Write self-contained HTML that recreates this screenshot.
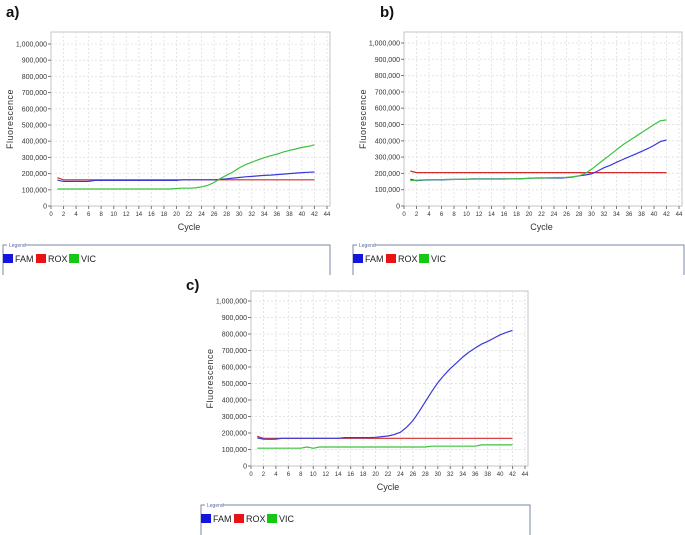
<!DOCTYPE html>
<html><head><meta charset="utf-8"><style>
body{margin:0;background:#fff;width:685px;height:535px;overflow:hidden;font-family:"Liberation Sans",sans-serif}
svg{display:block}
</style></head><body>
<svg id="chart" width="685" height="535" font-family="Liberation Sans, sans-serif"></svg>
<script>
const cycles=[1,2,3,4,5,6,7,8,9,10,11,12,13,14,15,16,17,18,19,20,21,22,23,24,25,26,27,28,29,30,31,32,33,34,35,36,37,38,39,40,41,42];
const yTicks=[0,100000,200000,300000,400000,500000,600000,700000,800000,900000,1000000];
const yTickLabels=["0","100,000","200,000","300,000","400,000","500,000","600,000","700,000","800,000","900,000","1,000,000"];
const xTicks=[0,2,4,6,8,10,12,14,16,18,20,22,24,26,28,30,32,34,36,38,40,42,44];
const seriesNames=["FAM","ROX","VIC"];
// values in thousands
const famA=[160,152,152,152,152,152,158,158,158,158,158,158,158,158,158,158,158,158,158,158,162,162,162,162,162,162,165,168,172,176,180,183,186,189,191,194,197,200,203,206,208,210];
const roxA=[175,162,162,162,162,162,162,162,162,162,162,162,162,162,162,162,162,162,162,162,162,162,162,162,162,162,162,162,162,162,162,162,162,162,162,162,162,162,162,162,162,162];
const vicA=[105,105,105,105,105,105,105,105,105,105,105,105,105,105,105,105,105,105,105,108,110,110,112,118,128,145,170,190,210,235,255,270,285,298,310,320,333,343,352,362,368,378];
const famB=[165,155,158,160,160,160,162,163,164,165,166,166,166,166,166,166,166,166,168,170,172,172,172,172,172,174,178,185,190,197,215,235,250,268,285,302,318,335,352,372,395,405];
const roxB=[215,205,205,205,205,205,205,205,205,205,205,205,205,205,205,205,205,205,205,205,205,205,205,205,205,205,205,205,205,205,205,205,205,205,205,205,205,205,205,205,205,205];
const vicB=[155,158,160,162,162,162,163,163,164,165,165,165,165,165,165,165,166,166,168,170,172,172,173,174,175,176,180,185,200,225,255,285,315,345,375,400,425,450,475,500,523,528];
const famC=[170,163,162,163,168,168,168,168,168,168,168,168,168,168,172,172,172,172,172,174,178,182,190,205,235,275,330,390,450,505,550,590,625,660,690,715,738,755,775,795,810,822];
const roxC=[180,168,168,168,168,168,168,168,168,168,168,168,168,168,168,168,168,168,168,168,168,168,168,168,168,168,168,168,168,168,168,168,168,168,168,168,168,168,168,168,168,168];
const vicC=[108,108,108,108,108,108,108,108,115,107,115,115,115,115,115,115,115,115,115,115,115,115,115,115,115,115,115,115,120,120,120,120,120,120,120,120,128,128,128,128,128,128];

const NS="http://www.w3.org/2000/svg";
const svg=document.getElementById('chart');
function mk(tag,attrs,parent,text){const e=document.createElementNS(NS,tag);for(const k in attrs)e.setAttribute(k,attrs[k]);if(text!==undefined)e.textContent=text;parent.appendChild(e);return e;}
const colors={FAM:"#3a3ad8",ROX:"#d42a2a",VIC:"#3cc23c"};
const panels=[
 {id:"a",label:"a)",lx:6,ly:17,x0:51,x1:327,top:32,y0:206,y1k:44,data:[famA,roxA,vicA],leg:{x:3,y:245,w:327,h:30}},
 {id:"b",label:"b)",lx:380,ly:17,x0:404,x1:679,top:32,y0:206,y1k:43,data:[famB,roxB,vicB],leg:{x:353,y:245,w:331,h:30}},
 {id:"c",label:"c)",lx:186,ly:290,x0:251,x1:525,top:291,y0:466,y1k:301,data:[famC,roxC,vicC],leg:{x:201,y:505,w:329,h:35}}
];
panels.forEach(p=>{
 const g=mk('g',{},svg);
 
 
 const X=c=>p.x0+(c/44)*(p.x1-p.x0);
 const Y=v=>p.y0-(v/1000000)*(p.y0-p.y1k);
 const lab=mk('text',{x:p.lx,y:p.ly,'font-size':15,'font-weight':'bold',fill:'#111'},g,p.label);
 
 
 const frame=mk('rect',{x:p.x0,y:p.top,width:p.x1-p.x0+3,height:p.y0-p.top,fill:'#fff',stroke:'#c4c4c4','stroke-width':1},g);
 
 
 yTicks.forEach((t,i)=>{
  const y=Y(t);
  if(t>0)mk('line',{x1:p.x0,x2:p.x1+3,y1:y,y2:y,stroke:'#e4e4e4','stroke-dasharray':'2,2'},g);
  mk('line',{x1:p.x0-3,x2:p.x0,y1:y,y2:y,stroke:'#777'},g);
  const tl=mk('text',{x:p.x0-4,y:y+2.5,'font-size':7,'text-anchor':'end',fill:'#333'},g,yTickLabels[i]);
  
  
 });
 xTicks.forEach(t=>{
  const x=X(t);
  if(t>0)mk('line',{x1:x,x2:x,y1:p.top,y2:p.y0,stroke:'#e4e4e4','stroke-dasharray':'2,2'},g);
  mk('line',{x1:x,x2:x,y1:p.y0,y2:p.y0+3,stroke:'#777'},g);
  const tl=mk('text',{x:x,y:p.y0+10,'font-size':6,'text-anchor':'middle',fill:'#333'},g,String(t));
  
  
 });
 const yt=mk('text',{x:0,y:0,'font-size':9,'text-anchor':'middle',fill:'#333','letter-spacing':'0.5',transform:`translate(${p.x0-38},${(p.top+p.y0)/2}) rotate(-90)`},g,'Fluorescence');
 
 
 const xt=mk('text',{x:(p.x0+p.x1)/2,y:p.y0+24,'font-size':9,'text-anchor':'middle',fill:'#333'},g,'Cycle');
 
 
 [1,0,2].forEach(si=>{
  const d=p.data[si].map((v,i)=>(i?'L':'M')+X(cycles[i]).toFixed(1)+','+Y(v*1000).toFixed(1)).join(' ');
  const path=mk('path',{d:d,fill:'none',stroke:colors[seriesNames[si]],'stroke-width':1.2},g);
  
  
 });
 const L=p.leg;
 const lg=mk('g',{},g);
 
 
 mk('path',{d:`M${L.x},${L.y+L.h} V${L.y} H${L.x+4} M${L.x+22},${L.y} H${L.x+L.w} V${L.y+L.h}`,fill:'none',stroke:'#7a8aa8','stroke-width':1},lg);
 mk('text',{x:L.x+6,y:L.y+2,'font-size':5,fill:'#5a6aa0'},lg,'Legend');
 let lx=L.x;
 seriesNames.forEach(n=>{
  const e=mk('g',{},lg);
  
  
  mk('rect',{x:lx,y:L.y+9,width:10,height:9,fill:n==='FAM'?'#1414e0':n==='ROX'?'#e81414':'#14c814'},e);
  mk('text',{x:lx+12,y:L.y+17,'font-size':9,fill:'#222'},e,n);
  lx+=33;
 });
});
</script>
</body></html>
